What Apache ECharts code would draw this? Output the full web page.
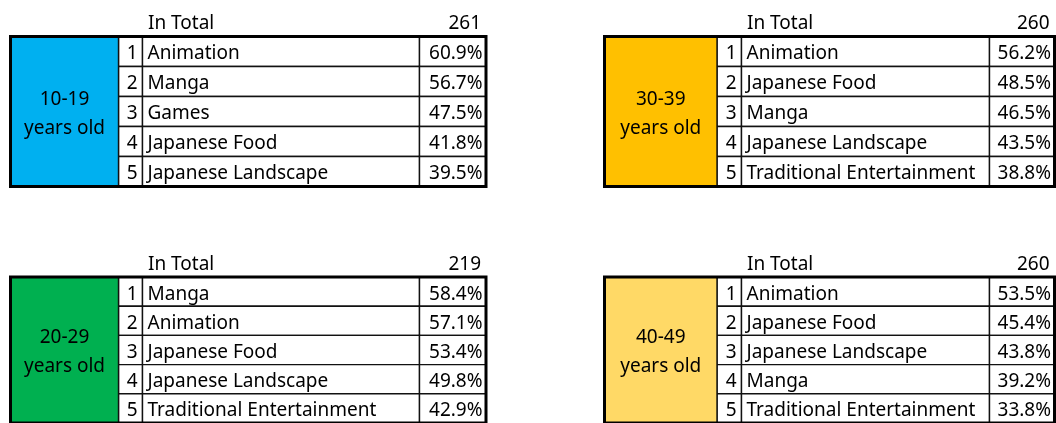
<!DOCTYPE html>
<html>
<head>
<meta charset="utf-8">
<script src="https://cdn.jsdelivr.net/npm/echarts@6/dist/echarts.min.js"></script>
<style>
html,body{margin:0;padding:0;background:#fff;}
#chart{width:1056px;height:423px;}
</style>
</head>
<body>
<div id="chart"></div>
<script>
// ---- data ----
const ageLabels = ['10-19\nyears old', '30-39\nyears old', '20-29\nyears old', '40-49\nyears old'];
const totals = [261, 260, 219, 260];
const totalLabel = 'In Total';
const ranks = [1, 2, 3, 4, 5];
const items1019 = ['Animation', 'Manga', 'Games', 'Japanese Food', 'Japanese Landscape'];
const pct1019 = [60.9, 56.7, 47.5, 41.8, 39.5];
const items3039 = ['Animation', 'Japanese Food', 'Manga', 'Japanese Landscape', 'Traditional Entertainment'];
const pct3039 = [56.2, 48.5, 46.5, 43.5, 38.8];
const items2029 = ['Manga', 'Animation', 'Japanese Food', 'Japanese Landscape', 'Traditional Entertainment'];
const pct2029 = [58.4, 57.1, 53.4, 49.8, 42.9];
const items4049 = ['Animation', 'Japanese Food', 'Japanese Landscape', 'Manga', 'Traditional Entertainment'];
const pct4049 = [53.5, 45.4, 43.8, 39.2, 33.8];

const tableItems = [items1019, items3039, items2029, items4049];
const tablePcts = [pct1019, pct3039, pct2029, pct4049];

// ---- layout / style ----
const ageColors = ['#00B0F0', '#FFC000', '#00B050', '#FFD966'];
const layouts = [
  {left: 10.5, top: 36.5, width: 475.5, cols: [108, 132, 409, 475.5]},
  {left: 604.5, top: 36.5, width: 450, cols: [112.5, 137, 385, 450]},
  {left: 10.5, top: 277, width: 475.5, cols: [108, 132, 409, 475.5]},
  {left: 604.5, top: 277, width: 450, cols: [112.5, 137, 385, 450]}
];
const rowsHeight = 150;
const FONT = '"Noto Sans", sans-serif';
const FS = 19;
const TEXT_DY = 2.5;

const grids = [], xAxes = [], yAxes = [], series = [];
layouts.forEach((L, t) => {
  grids.push({left: L.left, top: L.top, width: L.width, height: rowsHeight, containLabel: false});
  xAxes.push({type: 'value', gridIndex: t, min: 0, max: L.width, show: false});
  yAxes.push({type: 'value', gridIndex: t, min: 0, max: ranks.length, inverse: true, show: false});

  const rows = ranks.map((rk, i) => [i, rk, tableItems[t][i], tablePcts[t][i]]);
  series.push({
    type: 'custom', xAxisIndex: t, yAxisIndex: t, z: 2, clip: false,
    data: rows,
    renderItem: function (params, api) {
      const i = api.value(0);
      const d = rows[params.dataIndex];
      const c = L.cols;
      const a = api.coord([c[0], i]);
      const b = api.coord([c[1], i + 1]);
      const e = api.coord([c[2], i + 1]);
      const f = api.coord([c[3], i + 1]);
      const ym = (a[1] + b[1]) / 2 + TEXT_DY;
      const cell = (x0, x1) => ({
        type: 'rect',
        shape: {x: x0, y: a[1], width: x1 - x0, height: b[1] - a[1]},
        style: {fill: '#fff', stroke: '#111', lineWidth: 1.4}
      });
      const txt = (s, x, align) => ({
        type: 'text',
        style: {text: s, x: x, y: ym, align: align, verticalAlign: 'middle',
          fontSize: FS, fontFamily: FONT, fill: '#000'}
      });
      return {
        type: 'group',
        children: [
          cell(a[0], b[0]), cell(b[0], e[0]), cell(e[0], f[0]),
          txt(String(d[1]), b[0] - 5, 'right'),
          txt(d[2], b[0] + 5, 'left'),
          txt(d[3].toFixed(1) + '%', f[0] - 3.5, 'right')
        ]
      };
    }
  });

  series.push({
    type: 'custom', xAxisIndex: t, yAxisIndex: t, z: 3, clip: false,
    data: [[0, totals[t]]],
    renderItem: function (params, api) {
      const c = L.cols;
      const tl = api.coord([0, 0]);
      const br = api.coord([L.width, ranks.length]);
      const ag = api.coord([c[0], ranks.length]);
      const hd = api.coord([c[1], -0.5]);
      const hr = api.coord([L.width, -0.5]);
      return {
        type: 'group',
        children: [
          {type: 'rect', shape: {x: tl[0], y: tl[1], width: ag[0] - tl[0], height: ag[1] - tl[1]},
            style: {fill: ageColors[t], stroke: '#111', lineWidth: 1.4}},
          {type: 'text', style: {text: ageLabels[t], x: (tl[0] + ag[0]) / 2, y: (tl[1] + ag[1]) / 2 + TEXT_DY,
            align: 'center', verticalAlign: 'middle', fontSize: FS, fontFamily: FONT, fill: '#000', lineHeight: 29}},
          {type: 'rect', shape: {x: tl[0], y: tl[1], width: br[0] - tl[0], height: br[1] - tl[1]},
            style: {fill: 'none', stroke: '#000', lineWidth: 3}},
          {type: 'text', style: {text: totalLabel, x: hd[0] + 5.5, y: hd[1] + TEXT_DY,
            align: 'left', verticalAlign: 'middle', fontSize: FS, fontFamily: FONT, fill: '#000'}},
          {type: 'text', style: {text: String(totals[t]), x: hr[0] - 5, y: hr[1] + TEXT_DY,
            align: 'right', verticalAlign: 'middle', fontSize: FS, fontFamily: FONT, fill: '#000'}}
        ]
      };
    }
  });
});

const chart = echarts.init(document.getElementById('chart'), null, {renderer: 'canvas'});
chart.setOption({
  backgroundColor: '#fff',
  animation: false,
  grid: grids,
  xAxis: xAxes,
  yAxis: yAxes,
  series: series
});
</script>
</body>
</html>
